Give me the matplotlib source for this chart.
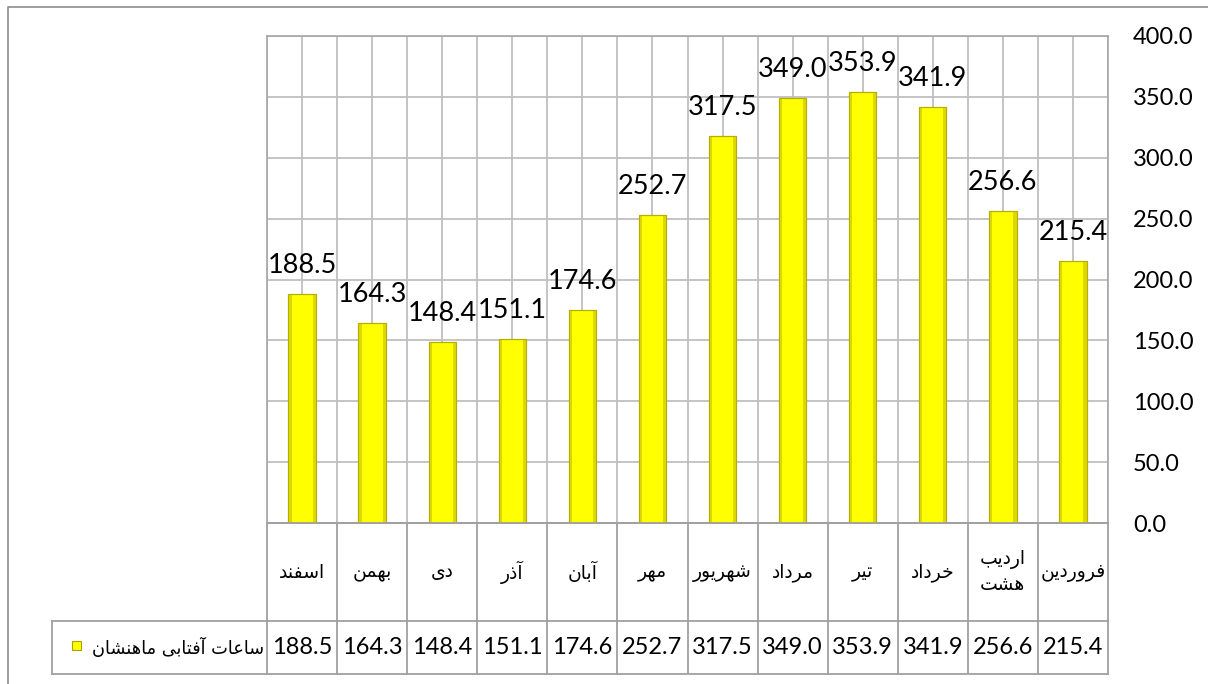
import numpy as np
import matplotlib
matplotlib.use("Agg")
import matplotlib.pyplot as plt
from matplotlib.lines import Line2D
from matplotlib.patches import Rectangle

# ---------------- data (calendar order: Farvardin first) ----------------
months = ["فروردین", "اردیب\nهشت", "خرداد", "تیر", "مرداد", "شهریور",
          "مهر", "آبان", "آذر", "دی", "بهمن", "اسفند"]
sun_hours = [215.4, 256.6, 341.9, 353.9, 349.0, 317.5,
             252.7, 174.6, 151.1, 148.4, 164.3, 188.5]
series_name = "ساعات آفتابی ماهنشان"
y_ticks = [0, 50, 100, 150, 200, 250, 300, 350, 400]

# ---------------- minimal Arabic-script shaping for display ----------------
FORMS = {
    'ا': ('\uFE8D', '\uFE8E', None, None),
    'آ': ('\uFE81', '\uFE82', None, None),
    'ب': ('\uFE8F', '\uFE90', '\uFE91', '\uFE92'),
    'ت': ('\uFE95', '\uFE96', '\uFE97', '\uFE98'),
    'خ': ('\uFEA5', '\uFEA6', '\uFEA7', '\uFEA8'),
    'د': ('\uFEA9', '\uFEAA', None, None),
    'ذ': ('\uFEAB', '\uFEAC', None, None),
    'ر': ('\uFEAD', '\uFEAE', None, None),
    'س': ('\uFEB1', '\uFEB2', '\uFEB3', '\uFEB4'),
    'ش': ('\uFEB5', '\uFEB6', '\uFEB7', '\uFEB8'),
    'ع': ('\uFEC9', '\uFECA', '\uFECB', '\uFECC'),
    'ف': ('\uFED1', '\uFED2', '\uFED3', '\uFED4'),
    'م': ('\uFEE1', '\uFEE2', '\uFEE3', '\uFEE4'),
    'ن': ('\uFEE5', '\uFEE6', '\uFEE7', '\uFEE8'),
    'ه': ('\uFEE9', '\uFEEA', '\uFEEB', '\uFEEC'),
    'و': ('\uFEED', '\uFEEE', None, None),
    'ی': ('\uFEEF', '\uFEF0', '\uFEF3', '\uFEF4'),
    'ي': ('\uFEEF', '\uFEF0', '\uFEF3', '\uFEF4'),
}


def shape(text):
    lines = []
    for line in text.split("\n"):
        ch = list(line)
        res = []
        for i, c in enumerate(ch):
            f = FORMS.get(c)
            if f is None:
                res.append(c)
                continue
            prev = ch[i - 1] if i > 0 else None
            nxt = ch[i + 1] if i + 1 < len(ch) else None
            jp = prev in FORMS and FORMS[prev][2] is not None
            jn = nxt in FORMS and f[2] is not None
            if jp and jn:
                g = f[3]
            elif jp:
                g = f[1]
            elif jn:
                g = f[2]
            else:
                g = f[0]
            res.append(g)
        lines.append("".join(reversed(res)))
    return "\n".join(lines)


# ---------------- figure ----------------
W, H = 1208, 684
fig = plt.figure(figsize=(W / 100, H / 100), dpi=100)

NUM_FONT = ["Lato", "DejaVu Sans"]
FA_FONT = ["DejaVu Sans"]

px_left, px_right, px_top, px_zero = 267, 1108, 36, 523
px_tab_bottom, px_row_split = 674, 621

ax = fig.add_axes([px_left / W, 1 - px_zero / H,
                   (px_right - px_left) / W, (px_zero - px_top) / H])
n = len(months)
x = np.arange(n)
ax.set_xlim(n - 0.5, -0.5)          # right-to-left category order
ax.set_ylim(0, 400)

grid_c = "#BFBFBF"
ax.hlines(y_ticks, -0.5, n - 0.5, color=grid_c, lw=1.3, zorder=1)
ax.vlines(np.arange(-0.5, n, 1.0), 0, 400, color=grid_c, lw=1.3, zorder=1)
ax.vlines(x, 0, 400, color=grid_c, lw=1.3, zorder=1)
for s in ax.spines.values():
    s.set_color("#A6A6A6")
    s.set_linewidth(1.2)

bw = 0.39
ew = 0.045
bars = ax.bar(x, sun_hours, width=bw, color="#FFFF00",
              edgecolor="#B5B000", linewidth=0.8, zorder=3)
# bevel-like darker side strips
ax.bar(x - bw / 2 + ew / 2, sun_hours, width=ew, color="#DCD800",
       linewidth=0, zorder=3.5)
ax.bar(x + bw / 2 - ew / 2, sun_hours, width=ew, color="#DCD800",
       linewidth=0, zorder=3.5)
ax.bar(x, sun_hours, width=bw, fill=False,
       edgecolor="#B5B000", linewidth=0.8, zorder=4)

for xi, v in zip(x, sun_hours):
    ax.annotate(f"{v:.1f}", (xi, v), xytext=(0, 11.5), textcoords="offset points",
                ha="center", va="bottom", fontsize=19.5, family=NUM_FONT,
                color="#000000", zorder=5)

ax.set_xticks([])
ax.yaxis.tick_right()
ax.set_yticks(y_ticks)
ax.set_yticklabels([f"{v:.1f}" for v in y_ticks], family=NUM_FONT, fontsize=17)
ax.tick_params(axis="y", length=0, pad=18)

# ---------------- data table ----------------
tab_h = px_tab_bottom - px_zero
ax2 = fig.add_axes([px_left / W, 1 - px_tab_bottom / H,
                    (px_right - px_left) / W, tab_h / H])
ax2.set_xlim(n - 0.5, -0.5)
ax2.set_ylim(0, tab_h)
ax2.axis("off")
split = px_tab_bottom - px_row_split
tab_c = "#A0A0A0"
for xv in np.arange(-0.5, n + 0.5, 1.0):
    ax2.plot([xv, xv], [0, tab_h], color=tab_c, lw=1.3, clip_on=False)
for yv in (0, split, tab_h):
    ax2.plot([-0.5, n - 0.5], [yv, yv], color=tab_c, lw=1.3, clip_on=False)

for xi, m in zip(x, months):
    ax2.text(xi, (split + tab_h) / 2, shape(m), ha="center", va="center",
             fontsize=13.5, family=FA_FONT, linespacing=1.4)
for xi, v in zip(x, sun_hours):
    ax2.text(xi, split / 2, f"{v:.1f}", ha="center", va="center",
             fontsize=17, family=NUM_FONT)

# legend cell (left of the table)
lx0, lx1 = 52 / W, px_left / W
ly0, ly1 = 1 - px_tab_bottom / H, 1 - px_row_split / H
for xs, ys in (([lx0, lx1], [ly0, ly0]), ([lx0, lx1], [ly1, ly1]),
               ([lx0, lx0], [ly0, ly1])):
    fig.add_artist(Line2D(xs, ys, color=tab_c, lw=1.3, transform=fig.transFigure))
fig.text(264 / W, (ly0 + ly1) / 2, shape(series_name), ha="right", va="center",
         fontsize=12.8, family=FA_FONT)
fig.add_artist(Rectangle((72 / W, 1 - 650 / H), 9 / W, 9 / H,
                         facecolor="#FFFF00", edgecolor="#A8A300", lw=0.8,
                         transform=fig.transFigure))

# outer chart frame (partially visible)
fig.add_artist(Line2D([8 / W, 8 / W, 1], [0, 1 - 7 / H, 1 - 7 / H],
                      color="#8C8C8C", lw=1.2, transform=fig.transFigure))

fig.savefig("out.png", dpi=100, facecolor="white")
